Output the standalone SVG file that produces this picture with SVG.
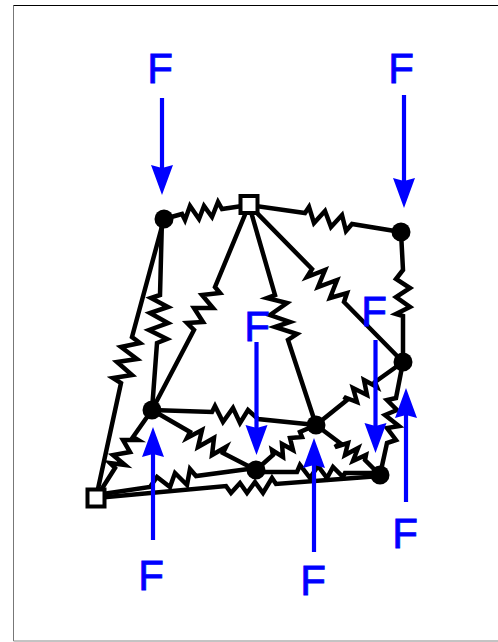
<svg xmlns="http://www.w3.org/2000/svg" width="498" height="642" viewBox="0 0 498 642">
<style>
.s{fill:none;stroke:#000;stroke-width:4.5;stroke-linejoin:miter;stroke-miterlimit:4}
.a{fill:none;stroke:#00f;stroke-width:4.2;marker-end:url(#h)}
.n{fill:#000}
.b{fill:#fff;stroke:#000;stroke-width:4}
.f{font-family:"Liberation Sans",Arial,sans-serif;font-size:42px;fill:#00f;stroke:#00f;stroke-width:.8;text-anchor:middle}
</style>
<defs>
<marker id="h" markerUnits="userSpaceOnUse" markerWidth="32" markerHeight="24" refX="3" refY="11" orient="auto" overflow="visible">
<path d="M0 0L30 11L0 22L3 11Z" fill="#00f"/>
</marker>
</defs>
<rect width="498" height="642" fill="#fff"/>
<path d="M13.5 641V5.500" fill="none" stroke="#777" stroke-width="1"/>
<path d="M13.5 5.5H498" fill="none" stroke="#000" stroke-width="1"/>
<path d="M13.5 641H498" fill="none" stroke="#888" stroke-width="1"/>
<g id="connectors">
<polyline class="s" points="164,219 182,214 185,220 190,206 199,219 204,206 212,217 218,202 222,209 249,205"/>
<polyline class="s" points="249,205 305,213 309,207 314,223 325,211 331,227 342,215 346,231 352,224 401,232"/>
<polyline class="s" points="249,205 312,269 307,277 325,270 318,287 337,280 330,298 347,293 344,302 403,362"/>
<polyline class="s" points="401,232 403,270 396,279 410,288 396,297 410,307 396,314 403,316 403,362"/>
<polyline class="s" points="162,219 160,295 151,298 168,307 150,313 168,323 149,330 167,339 157,343 152,410"/>
<polyline class="s" points="96,498 121,383 113,378 132,375 117,362 137,359 121,347 140,343 132,337 164,219"/>
<polyline class="s" points="249,205 215,287 220,293 202,295 213,308 194,308 203,322 187,323 194,330 152,410"/>
<polyline class="s" points="249,205 275,295 267,298 287,303 270,315 290,322 275,327 297,334 288,340 316,425"/>
<polyline class="s" points="152,410 212,412 215,406 223,422 233,408 240,423 248,410 258,419 316,425"/>
<polyline class="s" points="152,410 190,432 187,438 202,430 198,447 214,438 212,455 226,447 223,453 256,470"/>
<polyline class="s" points="152,410 133,437 138,440 123,440 130,452 113,455 125,465 110,463 115,468 96,498"/>
<polyline class="s" points="96,495 150,487 157,477 170,487 175,473 187,485 190,469 196,476 256,468"/>
<polyline class="s" points="96,498 226,486 231,493 240,483 247,493 255,482 263,493 272,478 276,484 380,476"/>
<polyline class="s" points="256,470 273,455 272,450 283,457 282,444 293,450 290,438 302,437 300,432 316,425"/>
<polyline class="s" points="256,472 297,472 300,465 310,478 318,466 327,478 333,467 343,477 345,473 380,473"/>
<polyline class="s" points="316,425 340,443 335,447 348,443 345,455 358,448 353,461 366,455 365,460 380,475"/>
<polyline class="s" points="316,425 347,400 344,397 357,402 353,388 367,395 364,380 377,387 375,382 403,362"/>
<polyline class="s" points="403,362 396,398 387,400 397,410 385,415 399,426 387,428 396,440 387,443 380,475"/>
</g>
<g id="node-a"><circle class="n" cx="164" cy="219" r="9.5"/></g>
<g id="node-b"><circle class="n" cx="401" cy="232" r="9.5"/></g>
<g id="node-c"><circle class="n" cx="403" cy="362" r="9.5"/></g>
<g id="node-d"><circle class="n" cx="152" cy="410" r="9.5"/></g>
<g id="node-e"><circle class="n" cx="316" cy="425" r="9.5"/></g>
<g id="node-g"><circle class="n" cx="256" cy="470" r="9.5"/></g>
<g id="node-h"><circle class="n" cx="380" cy="475" r="9.5"/></g>
<g id="node-s1"><rect class="b" x="240.5" y="196" width="17" height="17"/></g>
<g id="node-s2"><rect class="b" x="87.5" y="489.5" width="17" height="17"/></g>
<g id="forces">
<line class="a" x1="162" y1="98" x2="162" y2="168"/>
<line class="a" x1="404" y1="95" x2="404" y2="181"/>
<line class="a" x1="256.500" y1="342" x2="256.500" y2="428"/>
<line class="a" x1="375.500" y1="340" x2="375.500" y2="426"/>
<line class="a" x1="406" y1="502" x2="406" y2="415"/>
<line class="a" x1="314" y1="552" x2="314" y2="465"/>
<line class="a" x1="153" y1="540" x2="153" y2="454"/>
<text class="f" x="160" y="83">F</text>
<text class="f" x="401" y="83">F</text>
<text class="f" x="257" y="341">F</text>
<text class="f" x="374" y="326">F</text>
<text class="f" x="405" y="548">F</text>
<text class="f" x="313" y="595">F</text>
<text class="f" x="151" y="590">F</text>
</g>
</svg>
